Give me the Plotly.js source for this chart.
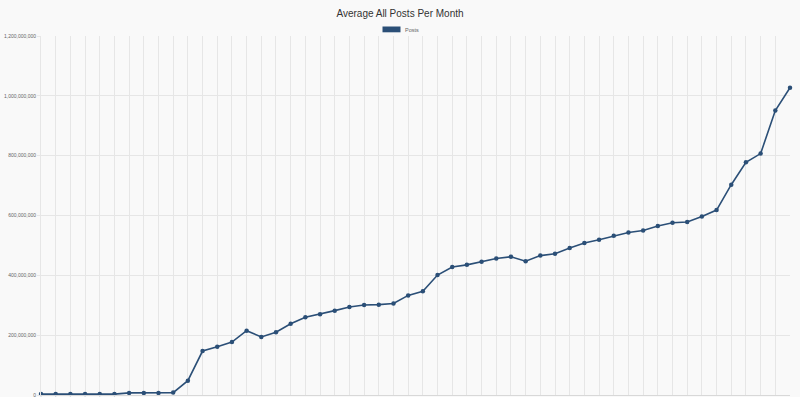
<!DOCTYPE html>
<html>
<head>
<meta charset="utf-8">
<script src="https://cdn.plot.ly/plotly-3.0.1.min.js"></script>
<style>
html,body{margin:0;padding:0;background:#f9f9f9;overflow:hidden;width:800px;height:397px;}
#chart{width:800px;height:430px;}
</style>
</head>
<body>
<div id="chart"></div>
<script>
const months = ["Jan","Feb","Mar","Apr","May","Jun","Jul","Aug","Sep","Oct","Nov","Dec"];
const categories = [];
for (let y = 2014; categories.length < 52; y++) {
  for (let m = 0; m < 12 && categories.length < 52; m++) categories.push(months[m] + " " + y);
}
const seriesName = "Posts";
const postsMillions = [
  3, 3, 3, 3, 3, 3, 7, 7, 7, 8,
  48, 147, 161, 177, 215, 194, 210, 238, 260, 270,
  282, 294, 301, 302, 306, 333, 347, 401, 428, 435,
  445, 456, 462, 447, 466, 472, 491, 508, 519, 532,
  543, 550, 565, 576, 578, 597, 618, 703, 778, 807,
  951, 1027
];
const posts = postsMillions.map(v => v * 1e6);
const yTicks = [0, 200e6, 400e6, 600e6, 800e6, 1000e6, 1200e6];

const color = '#2b4f77';
const trace = {
  x: categories, y: posts, type: 'scatter', mode: 'lines+markers', name: seriesName,
  line: {color: color, width: 1.6},
  marker: {color: color, size: 4.5},
  showlegend: false,
  cliponaxis: false,
  hovertemplate: '%{x}: %{y:,}<extra></extra>'
};

const L = 41, R = 790, T = 36, B = 395, W = 800, H = 430;
const pw = R - L, ph = B - T;
const px = v => (v - L) / pw;
const py = v => (B - v) / ph;

const layout = {
  width: W, height: H,
  margin: {l: L, r: W - R, t: T, b: H - B},
  paper_bgcolor: '#f9f9f9', plot_bgcolor: '#f9f9f9',
  font: {family: '"Liberation Sans", Arial, sans-serif', color: '#666'},
  title: {text: 'Average All Posts Per Month', x: 0.5, xanchor: 'center', xref: 'container',
          y: 1 - 13 / H, yanchor: 'middle', yref: 'container',
          font: {size: 10, color: '#333', family: '"Liberation Sans", Arial, sans-serif'}},
  xaxis: {type: 'category', range: [0, categories.length - 1], tickmode: 'linear', tick0: 0, dtick: 1,
          showticklabels: false,
          showgrid: true, gridcolor: '#e6e6e6', gridwidth: 1, zeroline: false,
          showline: true, linecolor: '#d8d8d8', linewidth: 1, ticks: '', fixedrange: true},
  yaxis: {range: [0, 1200e6], tickvals: yTicks, tickformat: ',d', tickfont: {size: 5, color: '#666'},
          showgrid: true, gridcolor: '#e6e6e6', gridwidth: 1, zeroline: false,
          showline: true, linecolor: '#e6e6e6', linewidth: 1, ticks: 'outside', ticklen: 3, tickcolor: '#e6e6e6',
          fixedrange: true},
  shapes: [{type: 'rect', xref: 'paper', yref: 'paper', x0: px(382.5), x1: px(400.5), y0: py(32.3), y1: py(26.5),
            fillcolor: color, line: {width: 0}}],
  annotations: [{text: seriesName, xref: 'paper', yref: 'paper', x: px(403), y: py(29.5),
                 xanchor: 'left', yanchor: 'middle', showarrow: false, font: {size: 5.5, color: '#666'}}]
};

Plotly.newPlot('chart', [trace], layout, {displayModeBar: false, staticPlot: true});
</script>
</body>
</html>
